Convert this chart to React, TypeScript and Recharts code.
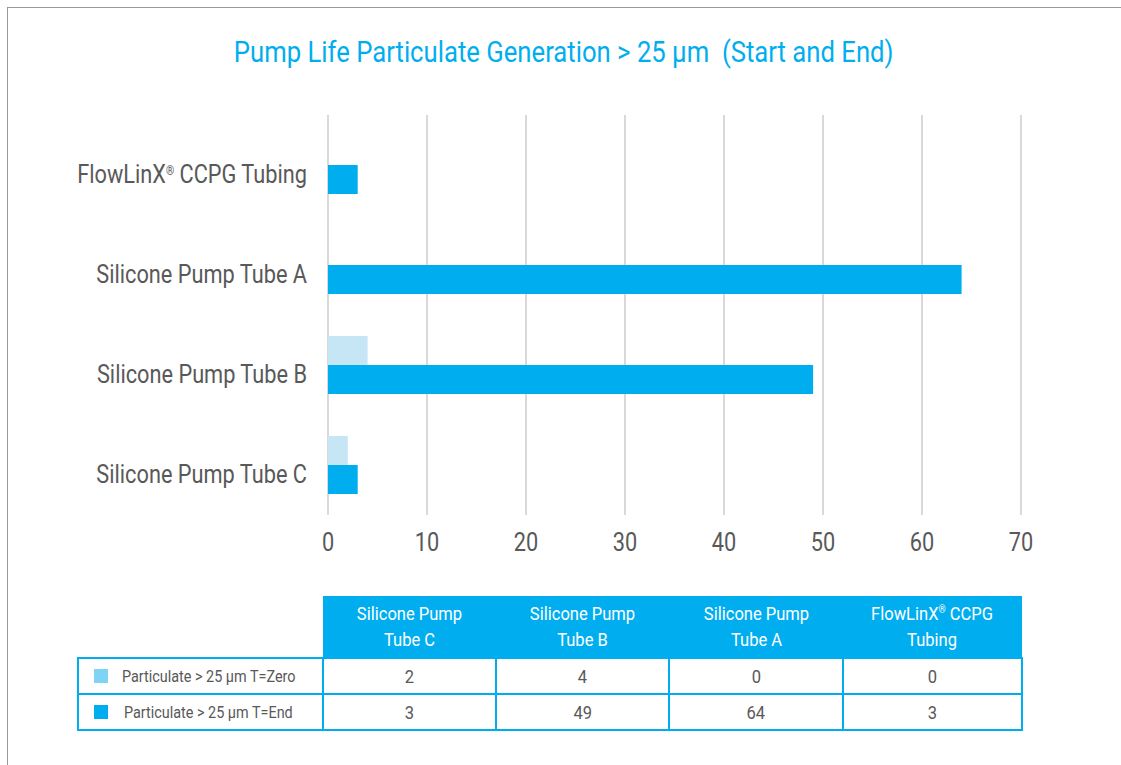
import React from "react";
import { BarChart, Bar, XAxis, YAxis, CartesianGrid } from "recharts";

const categories = ["FlowLinX® CCPG Tubing", "Silicone Pump Tube A", "Silicone Pump Tube B", "Silicone Pump Tube C"];
const zeroValues = [0, 0, 4, 2];
const endValues = [3, 64, 49, 3];
const xTicks = [0, 10, 20, 30, 40, 50, 60, 70];
const seriesNames = ["Particulate > 25 µm T=Zero", "Particulate > 25 µm T=End"];
const tableHeaders = [
  ["Silicone Pump", "Tube C"],
  ["Silicone Pump", "Tube B"],
  ["Silicone Pump", "Tube A"],
  ["FlowLinX® CCPG", "Tubing"],
];
const title = "Pump Life Particulate Generation > 25 µm  (Start and End)";

const data = categories.map((c, i) => ({ name: c, zero: zeroValues[i], end: endValues[i] }));

const FONT = "'Roboto', sans-serif";
const CYAN = "#00aeef";
const LIGHT = "#c6e6f5";
const GRAY = "#595959";
const SX = 0.87;

function withReg(text: string, sup: number) {
  const parts = text.split("®");
  if (parts.length === 1) return text;
  return (
    <>
      {parts[0]}
      <tspan fontSize={sup} dy={-sup * 0.7}>®</tspan>
      <tspan dy={sup * 0.7}>{parts[1]}</tspan>
    </>
  );
}

function htmlReg(text: string) {
  const parts = text.split("®");
  if (parts.length === 1) return text;
  return (
    <>
      {parts[0]}
      <sup style={{ fontSize: "0.55em", verticalAlign: "0.7em", lineHeight: 0 }}>®</sup>
      {parts[1]}
    </>
  );
}

const YTick = (props: any) => {
  const { x, y, payload } = props;
  return (
    <text
      transform={`translate(${x} ${y}) scale(${SX} 1)`}
      x={0}
      y={0}
      dy={18}
      textAnchor="end"
      fill={GRAY}
      fontSize={25}
      fontFamily={FONT}
    >
      {withReg(String(payload.value), 12)}
    </text>
  );
};

const XTick = (props: any) => {
  const { x, y, payload } = props;
  return (
    <text
      transform={`translate(${x} ${y}) scale(${SX} 1)`}
      x={0}
      y={0}
      dy={18}
      textAnchor="middle"
      fill={GRAY}
      fontSize={25}
      fontFamily={FONT}
    >
      {payload.value}
    </text>
  );
};

const cond = (content: React.ReactNode, s = SX) => (
  <span style={{ display: "inline-block", transform: `scaleX(${s})`, whiteSpace: "pre" }}>{content}</span>
);

export default function App() {
  const cellBorder = `2px solid ${CYAN}`;
  const colWidths = [245, 173, 173, 174, 179];
  return (
    <div style={{ position: "absolute", left: 0, top: 0, width: 1121, height: 765, background: "#fff", fontFamily: FONT }}>
      <div style={{ position: "absolute", left: 7, top: 7, width: 1114, height: 758, borderTop: "1px solid #9a9a9a", borderLeft: "1px solid #9a9a9a" }} />
      <div style={{ position: "absolute", left: 0, width: 1128, top: 33, textAlign: "center", color: CYAN, fontSize: 29, lineHeight: "38px", whiteSpace: "pre" }}>
        {cond(title, 0.885)}
      </div>
      <div style={{ position: "absolute", left: 0, top: 0 }}>
        <BarChart
          width={1121}
          height={570}
          data={data}
          layout="vertical"
          margin={{ top: 115, right: 100, bottom: 15, left: 0 }}
          barGap={0}
        >
          <CartesianGrid horizontal={false} stroke="#d9d9d9" strokeWidth={2} />
          <XAxis
            type="number"
            domain={[0, 70]}
            ticks={xTicks}
            axisLine={false}
            tickLine={false}
            tickSize={0}
            tickMargin={18}
            height={40}
            tick={<XTick />}
            interval={0}
          />
          <YAxis
            type="category"
            dataKey="name"
            width={328}
            axisLine={false}
            tickLine={false}
            tickSize={0}
            tickMargin={21}
            tick={<YTick />}
            interval={0}
          />
          <Bar dataKey="zero" fill={LIGHT} barSize={29} isAnimationActive={false} />
          <Bar dataKey="end" fill={CYAN} barSize={29} isAnimationActive={false} />
        </BarChart>
      </div>
      <table
        style={{
          position: "absolute",
          left: 77,
          top: 596,
          borderCollapse: "collapse",
          tableLayout: "fixed",
          width: colWidths.reduce((a, b) => a + b, 0),
          fontFamily: FONT,
        }}
      >
        <colgroup>
          {colWidths.map((w, i) => (
            <col key={i} style={{ width: w }} />
          ))}
        </colgroup>
        <tbody>
          <tr style={{ height: 62 }}>
            <td style={{ padding: 0 }} />
            {tableHeaders.map((h, i) => (
              <td
                key={i}
                style={{ background: CYAN, color: "#fff", textAlign: "center", fontSize: 19, lineHeight: "26px", padding: 0, verticalAlign: "middle" }}
              >
                {cond(
                  <>
                    {htmlReg(h[0])}
                    {"\n"}
                    {h[1]}
                  </>
                )}
              </td>
            ))}
          </tr>
          {[zeroValues, endValues].map((vals, r) => (
            <tr key={r} style={{ height: 36 }}>
              <td style={{ border: cellBorder, padding: 0, color: GRAY, fontSize: 16, whiteSpace: "nowrap" }}>
                <span
                  style={{
                    display: "inline-block",
                    width: 14,
                    height: 14,
                    background: r === 0 ? "#7fd3f5" : CYAN,
                    marginLeft: 15,
                    marginRight: r === 0 ? 14 : 16,
                    verticalAlign: "-1px",
                  }}
                />
                <span style={{ display: "inline-block", transform: `scaleX(0.9)`, transformOrigin: "left center" }}>
                  {seriesNames[r]}
                </span>
              </td>
              {[...vals].reverse().map((v, i) => (
                <td key={i} style={{ border: cellBorder, padding: 0, textAlign: "center", color: GRAY, fontSize: 19 }}>
                  {cond(v)}
                </td>
              ))}
            </tr>
          ))}
        </tbody>
      </table>
    </div>
  );
}
